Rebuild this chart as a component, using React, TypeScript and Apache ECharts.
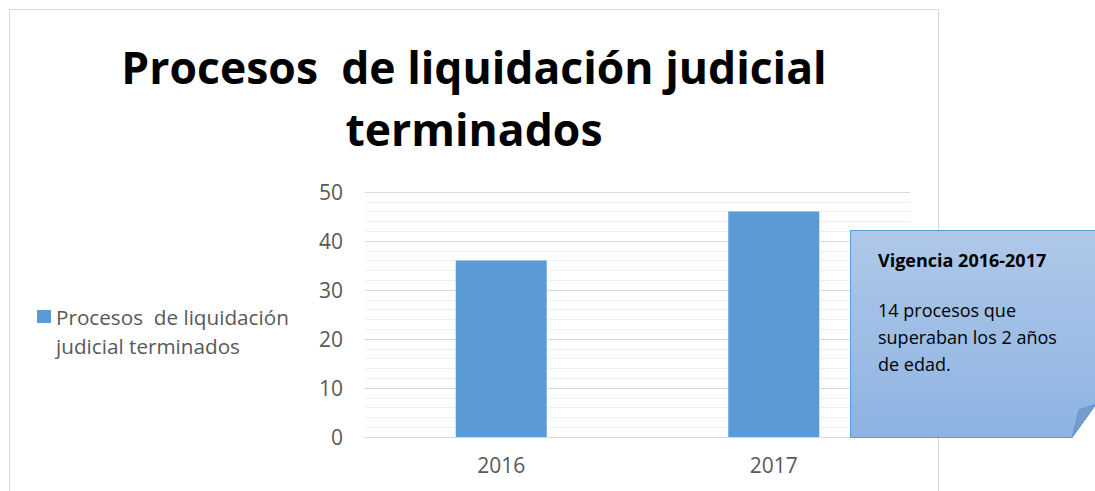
import React, { useEffect, useRef } from "react";
import * as echarts from "echarts";

const seriesName = "Procesos  de liquidación judicial terminados";
const legendLines = ["Procesos  de liquidación", "judicial terminados"];
const categories = ["2016", "2017"];
const values = [36, 46];
const titleLines = ["Procesos  de liquidación judicial", "terminados"];
const calloutTitle = "Vigencia 2016-2017";
const calloutLines = ["14 procesos que", "superaban los 2 años", "de edad."];

export default function App() {
  const ref = useRef<HTMLDivElement>(null);
  useEffect(() => {
    if (!ref.current) return;
    const chart = echarts.init(ref.current, null, { renderer: "svg" });
    const font = "'Open Sans', sans-serif";
    chart.setOption({
      animation: false,
      backgroundColor: "#ffffff",
      textStyle: { fontFamily: font },
      grid: { left: 365, right: 185, top: 192, bottom: 54, containLabel: false },
      legend: {
        data: [seriesName],
        orient: "vertical",
        left: 32,
        top: 268,
        padding: 5,
        itemWidth: 14,
        itemHeight: 13,
        icon: "rect",
        formatter: () => " \n" + legendLines.join("\n"),
        textStyle: {
          fontFamily: font,
          fontSize: 20.7,
          color: "#595959",
          lineHeight: 29,
        },
      },
      xAxis: {
        type: "category",
        data: categories,
        axisLine: { show: true, lineStyle: { color: "#D9D9D9", width: 1 } },
        axisTick: { show: false },
        axisLabel: { color: "#595959", fontSize: 21, margin: 17, fontFamily: font },
      },
      yAxis: {
        type: "value",
        min: 0,
        max: 50,
        interval: 10,
        axisLine: { show: false },
        axisTick: { show: false },
        axisLabel: { color: "#595959", fontSize: 21, margin: 22, fontFamily: font },
        splitLine: { show: true, lineStyle: { color: "#D9D9D9", width: 1 } },
        minorTick: { show: false, splitNumber: 5 },
        minorSplitLine: { show: true, lineStyle: { color: "#EFEFEF", width: 1 } },
      },
      series: [
        {
          name: seriesName,
          type: "bar",
          data: values,
          barWidth: 91,
          itemStyle: { color: "#5B9BD5" },
        },
      ],
      graphic: [
        {
          type: "rect",
          shape: { x: 9.5, y: 9.5, width: 929, height: 500 },
          style: { fill: "none", stroke: "#D9D9D9", lineWidth: 1 },
          z: -10,
          silent: true,
        },
        {
          type: "text",
          x: 474,
          y: 66,
          style: {
            text: titleLines[0],
            fontFamily: font,
            fontWeight: "bold",
            fontSize: 44.5,
            fill: "#000000",
            align: "center",
            verticalAlign: "middle",
          },
        },
        {
          type: "text",
          x: 474,
          y: 128,
          style: {
            text: titleLines[1],
            fontFamily: font,
            fontWeight: "bold",
            fontSize: 44.5,
            fill: "#000000",
            align: "center",
            verticalAlign: "middle",
          },
        },
        {
          type: "polygon",
          shape: {
            points: [
              [850.5, 230.5],
              [1096, 230.5],
              [1096, 404],
              [1072, 437.5],
              [850.5, 437.5],
            ],
          },
          style: {
            fill: new echarts.graphic.LinearGradient(0, 0, 0, 1, [
              { offset: 0, color: "#AFC8E8" },
              { offset: 1, color: "#8DB3E2" },
            ]),
            stroke: "#5B9BD5",
            lineWidth: 1,
          },
          z: 50,
        },
        {
          type: "polygon",
          shape: {
            points: [
              [1072, 437.5],
              [1079, 410],
              [1096, 404],
            ],
          },
          style: { fill: "#7A9CC8", stroke: "#5B9BD5", lineWidth: 1 },
          z: 51,
        },
        {
          type: "text",
          x: 878,
          y: 260,
          z: 52,
          style: {
            text: calloutTitle,
            fontFamily: font,
            fontWeight: "bold",
            fontSize: 18,
            fill: "#000000",
            verticalAlign: "middle",
          },
        },
        {
          type: "text",
          x: 878,
          y: 296,
          z: 52,
          style: {
            text: calloutLines.join("\n"),
            fontFamily: font,
            fontSize: 18,
            lineHeight: 27,
            fill: "#000000",
            verticalAlign: "top",
          },
        },
      ],
    });
    return () => chart.dispose();
  }, []);
  return (
    <div
      ref={ref}
      style={{ position: "absolute", left: 0, top: 0, width: 1095, height: 491 }}
    />
  );
}
